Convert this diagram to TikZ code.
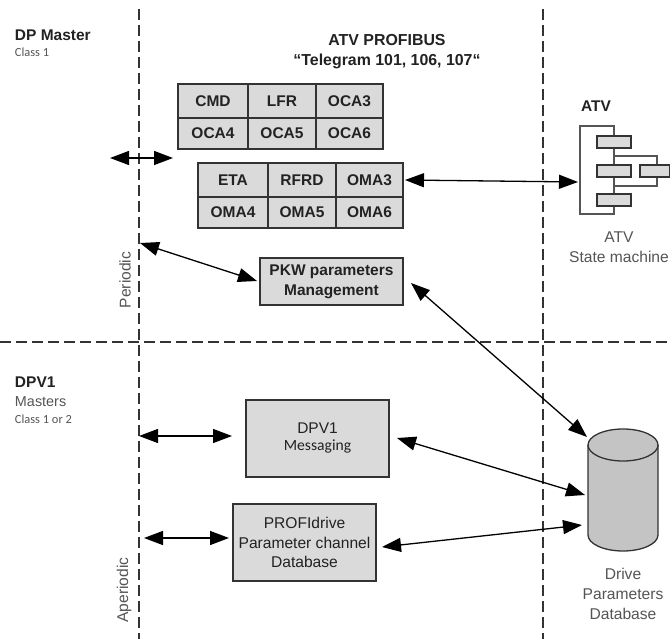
\documentclass[tikz,border=0pt]{standalone}
\usepackage{fontspec}
\setmainfont{Liberation Sans}
\newfontfamily\carl{Carlito}
\usetikzlibrary{arrows.meta,shapes.geometric}
\definecolor{boxgray}{HTML}{DADADA}
\definecolor{linegray}{HTML}{333333}
\definecolor{txt}{HTML}{222222}
\definecolor{softtxt}{HTML}{555555}
\tikzset{
  x=1pt,y=-1pt,
  every node/.style={inner sep=0pt,outer sep=0pt,text=txt},
  divider/.style={draw=linegray,line width=1.3pt,dash pattern=on 11pt off 5pt},
  cell/.style={draw=linegray,fill=boxgray,line width=1.2pt,anchor=north west,align=center,font=\bfseries\fontsize{15.5}{20}\selectfont},
  msgbox/.style={draw=linegray,fill=boxgray,line width=1.2pt,anchor=north west,align=center},
  link/.style={draw=black,line width=1.3pt,{Triangle[length=19pt,width=14pt]}-{Triangle[length=19pt,width=14pt]}},
  smallbox/.style={draw=linegray,fill=boxgray,line width=1.4pt,anchor=north west,minimum width=34pt,minimum height=12pt},
  iconline/.style={draw=softtxt,line width=1.1pt},
  softcap/.style={align=center,text=softtxt,font=\fontsize{15.6}{20}\selectfont}
}
\begin{document}
\begin{tikzpicture}
\useasboundingbox (0,0) rectangle (670,639);
\fill[white] (0,0) rectangle (670,639);
% dividers
\coordinate (v1t) at (139,9); \coordinate (v1b) at (139,639);
\coordinate (v2t) at (543,9); \coordinate (v2b) at (543,639);
\coordinate (hl) at (0,342); \coordinate (hr) at (670,342);
\draw[divider] (v1t) -- (v1b);
\draw[divider] (v2t) -- (v2b);
\draw[divider] (hl) -- (hr);
% labels
\node[anchor=west,font=\bfseries\fontsize{15.5}{18}\selectfont] (dpm) at (15,35) {DP Master};
\node[anchor=west,text=softtxt,font=\carl\fontsize{12.4}{13}\selectfont] (cl1) at (15,52) {Class 1};
\node[anchor=west,font=\bfseries\fontsize{15.5}{18}\selectfont] (dpv) at (15,382) {DPV1};
\node[anchor=west,text=softtxt,font=\fontsize{14.4}{16}\selectfont] (mst) at (15,402) {Masters};
\node[anchor=west,text=softtxt,font=\carl\fontsize{12.4}{13}\selectfont] (cl12) at (15,419) {Class 1 or 2};
\node[align=center,font=\bfseries\fontsize{15.9}{20}\selectfont] (title) at (387,52) {ATV PROFIBUS\\“Telegram 101, 106, 107“};
\node[anchor=west,font=\bfseries\fontsize{15.5}{18}\selectfont] (atv) at (581,106) {ATV};
\node[rotate=90,softcap] (per) at (125,280) {Periodic};
\node[rotate=90,softcap] (aper) at (124,590) {Aperiodic};
% tables
\foreach \nm/\txt/\px/\py/\w/\h in {
 c1/CMD/178/84/70/34, c2/LFR/248/84/68/34, c3/OCA3/316/84/67/34,
 c4/OCA4/178/118/70/31, c5/OCA5/248/118/68/31, c6/OCA6/316/118/67/31,
 d1/ETA/198/163/70/34, d2/RFRD/268/163/68/34, d3/OMA3/336/163/67/34,
 d4/OMA4/198/197/70/31, d5/OMA5/268/197/68/31, d6/OMA6/336/197/67/31}
 \node[cell,minimum width=\w pt,minimum height=\h pt] (\nm) at (\px,\py) {\txt};
% boxes
\node[cell,minimum width=143pt,minimum height=47pt] (pkw) at (260,258) {PKW parameters\\Management};
\node[msgbox,minimum width=143pt,minimum height=77pt] (msg) at (246,400) {\raisebox{4pt}{\begin{tabular}{@{}c@{}}{\fontsize{15.5}{20}\selectfont DPV1}\\[2pt]{\carl\fontsize{15.6}{20}\selectfont Messaging}\end{tabular}}};
\node[msgbox,minimum width=143pt,minimum height=77pt,font=\fontsize{15.6}{19.5}\selectfont] (prof) at (233,504) {PROFIdrive\\Parameter channel\\Database};
% ATV icon
\coordinate (b1) at (614,126); \coordinate (b2) at (580,126); \coordinate (b3) at (580,214); \coordinate (b4) at (614,214);
\draw[iconline] (b1) -- (b2) -- (b3) -- (b4) -- cycle;
\coordinate (e1) at (614,156); \coordinate (e2) at (657,156); \coordinate (e3) at (657,186); \coordinate (e4) at (614,186);
\draw[iconline] (e1) -- (e2) -- (e3) -- (e4);
\node[smallbox] (s1) at (597,136) {};
\node[smallbox] (s2) at (597,165) {};
\node[smallbox] (s3) at (597,194) {};
\node[smallbox,minimum width=30pt] (s4) at (640,165) {};
\node[softcap] (atvc) at (619,247) {ATV\\State machine};
% cylinder
\node[softcap] (dbc) at (623,594) {Drive\\Parameters\\Database};
\path[fill=boxgray!90!black,draw=linegray,line width=1.3pt] (588,445) -- (588,535) arc[start angle=180,end angle=360,x radius=35,y radius=-16] -- (658,445);
\path[fill=boxgray!90!black,draw=linegray,line width=1.3pt] (623,445) ellipse[x radius=35,y radius=16];
\coordinate (cylA) at (587,437); \coordinate (cylB) at (585,495); \coordinate (cylC) at (582,525);
% arrows
\coordinate (a1l) at (110,158); \coordinate (a1r) at (173,158);
\coordinate (a2r) at (578,182);
\coordinate (a3l) at (140,243);
\coordinate (a4) at (411,283);
\coordinate (a5) at (397,438);
\coordinate (a6) at (382,547);
\coordinate (a7l) at (139,436); \coordinate (a7r) at (232,436);
\coordinate (a8l) at (144,538); \coordinate (a8r) at (229,538);
\draw[link] (a1l) -- (a1r);
\coordinate (a2l) at ([xshift=2pt]d3.east);
\draw[link] (a2l) -- (a2r);
\coordinate (pk) at (257,281);
\draw[link] (a3l) -- (pk);
\draw[link] (a4) -- (cylA);
\draw[link] (a5) -- (cylB);
\draw[link] (a6) -- (cylC);
\draw[link] (a7l) -- (a7r);
\draw[link] (a8l) -- (a8r);
\end{tikzpicture}
\end{document}
